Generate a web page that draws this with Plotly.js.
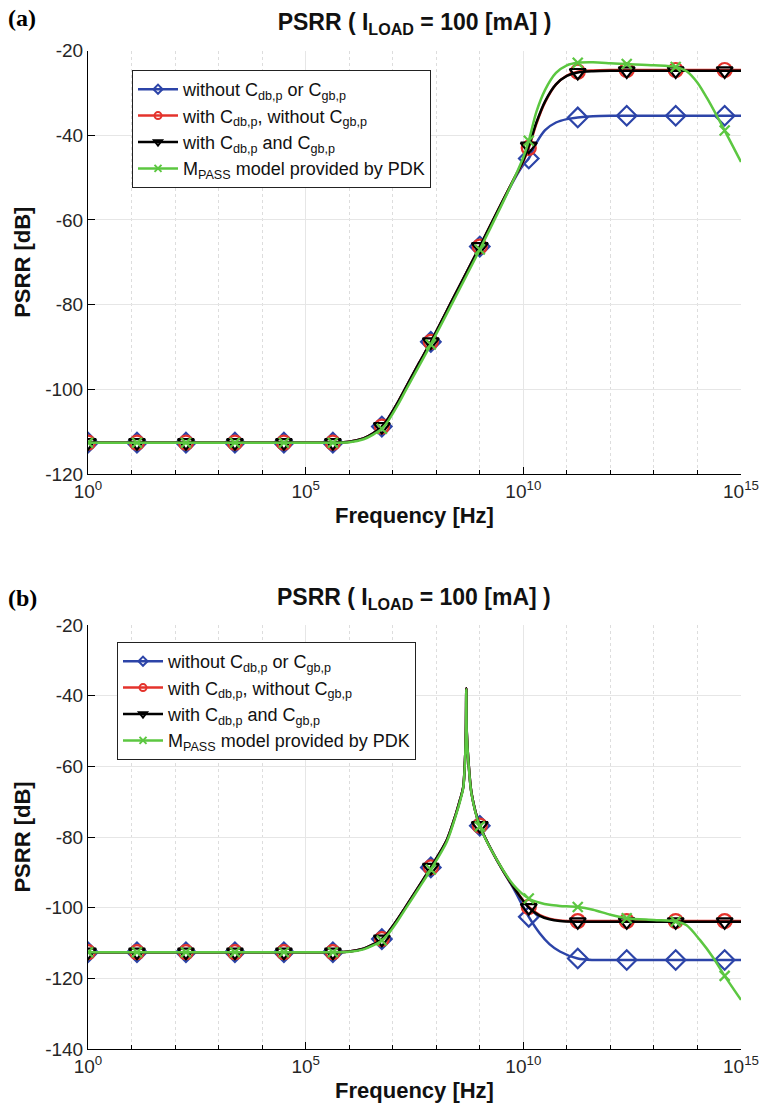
<!DOCTYPE html>
<html><head><meta charset="utf-8">
<script src="https://cdn.plot.ly/plotly-3.0.1.min.js"></script>
<style>html,body{margin:0;padding:0;background:#fff}</style>
</head><body><div id="chart" style="width:764px;height:1120px"></div>
<script>
// ---------- DATA ----------
// log10(frequency / Hz) of the 14 marker positions
const markerLogF = [0, 1.125, 2.25, 3.375, 4.5, 5.625, 6.75, 7.875, 9.0, 10.125, 11.25, 12.375, 13.5, 14.625];

// Panel (a): sample points, log10(f)
const logF_a = [0, 1.125, 2.25, 3.375, 4.5, 5.625, 6.0, 6.33, 6.55, 6.75, 6.9, 7.1, 7.3, 7.6, 7.875, 8.4, 9.0, 9.5, 9.8, 10.0, 10.125, 10.3, 10.5, 10.75, 11.0, 11.25, 11.6, 12.0, 12.375, 13.0, 13.5, 13.75, 14.0, 14.25, 14.625, 15];
const blue_a  = [-112.6, -112.6, -112.6, -112.6, -112.6, -112.6, -112.4, -111.6, -110.4, -108.8, -106.8, -103.4, -99.6, -93.9, -88.8, -78.3, -66.3, -56.2, -50.3, -47.0, -45.5, -41.8, -38.8, -37.0, -36.2, -35.8, -35.5, -35.4, -35.4, -35.4, -35.4, -35.4, -35.4, -35.4, -35.4, -35.4];
const red_a   = [-112.6, -112.6, -112.6, -112.6, -112.6, -112.6, -112.4, -111.6, -110.4, -108.8, -106.8, -103.4, -99.6, -93.9, -88.8, -78.3, -66.3, -56.0, -50.0, -46.2, -43.0, -37.3, -32.2, -28.0, -25.9, -25.0, -24.7, -24.6, -24.6, -24.6, -24.6, -24.6, -24.6, -24.6, -24.6, -24.6];
const black_a = [-112.6, -112.6, -112.6, -112.6, -112.6, -112.6, -112.4, -111.6, -110.4, -108.8, -106.8, -103.4, -99.6, -93.9, -88.8, -78.3, -66.3, -56.0, -50.0, -46.0, -42.6, -37.0, -32.0, -28.0, -26.0, -25.2, -24.9, -24.8, -24.8, -24.8, -24.8, -24.8, -24.8, -24.8, -24.8, -24.8];
const green_a = [-112.6, -112.6, -112.6, -112.6, -112.6, -112.6, -112.5, -111.8, -110.7, -109.3, -107.4, -104.0, -100.2, -94.6, -89.4, -79.0, -67.0, -56.5, -50.0, -45.2, -41.3, -34.5, -29.3, -25.3, -23.5, -22.9, -22.8, -23.0, -23.2, -23.5, -23.9, -24.9, -27.6, -31.8, -38.9, -46.3];

// Panel (b): sample points, log10(f)
const logF_b = [0, 1.125, 2.25, 3.375, 4.5, 5.625, 6.0, 6.33, 6.55, 6.75, 6.9, 7.1, 7.3, 7.6, 7.875, 8.24, 8.45, 8.55, 8.62, 8.66, 8.68, 8.69, 8.70, 8.737, 8.81, 9.0, 9.39, 9.77, 10.125, 10.38, 10.6, 10.84, 11.25, 11.6, 12.0, 12.375, 13.0, 13.5, 13.75, 14.06, 14.37, 14.625, 15];
const blue_b  = [-112.6, -112.6, -112.6, -112.6, -112.6, -112.6, -112.4, -111.6, -110.4, -108.9, -106.9, -103.5, -99.7, -94.0, -88.6, -80.9, -73.5, -69.3, -65.8, -58.2, -50.0, -37.9, -50.0, -58.2, -67.6, -76.8, -86.5, -94.5, -102.6, -107.3, -110.3, -112.4, -114.4, -114.8, -114.8, -114.8, -114.8, -114.8, -114.8, -114.8, -114.8, -114.8, -114.8];
const red_b   = [-112.6, -112.6, -112.6, -112.6, -112.6, -112.6, -112.4, -111.6, -110.4, -108.9, -106.9, -103.5, -99.7, -94.0, -88.6, -80.9, -73.5, -69.3, -65.8, -58.2, -50.0, -37.9, -50.0, -58.2, -67.6, -76.8, -86.5, -94.1, -99.8, -102.1, -103.1, -103.6, -103.8, -103.8, -103.8, -103.8, -103.8, -103.8, -103.8, -103.8, -103.8, -103.8, -103.8];
const black_b = [-112.6, -112.6, -112.6, -112.6, -112.6, -112.6, -112.4, -111.6, -110.4, -108.9, -106.9, -103.5, -99.7, -94.0, -88.6, -80.9, -73.5, -69.3, -65.8, -58.2, -50.0, -37.9, -50.0, -58.2, -67.6, -76.8, -86.5, -94.1, -100.0, -102.3, -103.3, -103.8, -104.0, -104.0, -104.0, -104.0, -104.0, -104.0, -104.0, -104.0, -104.0, -104.0, -104.0];
const green_b = [-112.6, -112.6, -112.6, -112.6, -112.6, -112.6, -112.5, -111.8, -110.7, -109.3, -107.4, -104.0, -100.2, -94.5, -89.2, -81.4, -73.9, -69.7, -66.1, -58.5, -50.3, -38.2, -50.3, -58.5, -67.8, -77.0, -86.4, -93.5, -97.4, -98.6, -99.2, -99.5, -99.8, -100.6, -102.0, -103.0, -103.5, -103.9, -105.0, -109.2, -114.3, -119.3, -126.1];

const seriesNames = [
  'without C<sub>db,p</sub> or C<sub>gb,p</sub>',
  'with C<sub>db,p</sub>, without C<sub>gb,p</sub>',
  'with C<sub>db,p</sub> and C<sub>gb,p</sub>',
  'M<sub>PASS</sub> model provided by PDK'
];
const xTickExp = [0, 5, 10, 15];
const yTicksA = [-120, -100, -80, -60, -40, -20];
const yTicksB = [-140, -120, -100, -80, -60, -40, -20];
const titleText = '<b>PSRR ( I<sub>LOAD</sub> = 100 [mA] )</b>';

// ---------- STYLE ----------
const W = 764, H = 1120;
const FONT = 'Liberation Sans, Arial, Helvetica, sans-serif';
const colors = ['#2c44a8', '#e4332c', '#000000', '#5cc741'];
const symbols = ['diamond-open', 'circle-open', 'triangle-down-open', 'x-thin-open'];
const msizes = [15, 14, 14, 10];
const px2x = p => p / W;
const py2y = p => 1 - p / H;

function buildPanel(logF, seriesList, xa, ya, legendId) {
  const traces = [];
  const f = logF.map(e => Math.pow(10, e));
  seriesList.forEach((ys, i) => {
    traces.push({
      x: f, y: ys, xaxis: xa, yaxis: ya, mode: 'lines', showlegend: false,
      line: {color: colors[i], width: 2.5, shape: 'spline', smoothing: 0.8},
      hoverinfo: 'skip'
    });
    const mx = [], my = [];
    markerLogF.forEach(m => {
      const k = logF.findIndex(v => Math.abs(v - m) < 1e-9);
      if (k >= 0) { mx.push(f[k]); my.push(ys[k]); }
    });
    traces.push({
      x: mx, y: my, xaxis: xa, yaxis: ya, mode: 'markers', showlegend: false,
      marker: {symbol: symbols[i], size: msizes[i], color: colors[i], line: {width: 2.2, color: colors[i]}}
    });
  });
  // legend entries
  seriesList.forEach((ys, i) => {
    traces.push({
      x: [null], y: [null], xaxis: xa, yaxis: ya, mode: 'lines+markers', name: seriesNames[i],
      legend: legendId,
      line: {color: colors[i], width: 2.5},
      marker: {symbol: symbols[i], size: 7, color: colors[i], line: {width: 2, color: colors[i]}}
    });
  });
  return traces;
}

const data = [].concat(
  buildPanel(logF_a, [blue_a, red_a, black_a, green_a], 'x', 'y', 'legend'),
  buildPanel(logF_b, [blue_b, red_b, black_b, green_b], 'x2', 'y2', 'legend2')
);

const decades = [];
for (let d = 1; d < 15; d++) if (d % 5 !== 0) decades.push(Math.pow(10, d));

function xAxis(anchor) {
  return {
    type: 'log', range: [0, 15], anchor: anchor,
    domain: [px2x(88), px2x(741)],
    tickvals: xTickExp.map(e => Math.pow(10, e)),
    ticktext: xTickExp.map(e => '10<sup>' + e + '</sup>'),
    ticks: 'inside', ticklen: 7, tickwidth: 1, tickcolor: '#000',
    showline: true, linecolor: '#000', linewidth: 1, mirror: false,
    showgrid: true, gridcolor: '#e6e6e6', gridwidth: 1,
    zeroline: false,
    tickfont: {family: FONT, size: 19, color: '#262626'},
    minor: {tickvals: decades, ticks: 'inside', ticklen: 4, tickcolor: '#000',
            showgrid: true, gridcolor: '#dddddd', griddash: 'dot', gridwidth: 1},
    title: {text: 'Frequency [Hz]', font: {family: FONT, size: 22, color: '#111', weight: 'bold'}, standoff: 6},
    automargin: false
  };
}
function yAxis(anchor, top, bottom, ticks) {
  return {
    range: [ticks[0], ticks[ticks.length - 1]], anchor: anchor,
    domain: [py2y(bottom), py2y(top)],
    tickvals: ticks, ticktext: ticks.map(String),
    ticks: 'inside', ticklen: 7, tickwidth: 1, tickcolor: '#000',
    showline: true, linecolor: '#000', linewidth: 1, mirror: false,
    showgrid: true, gridcolor: '#e6e6e6', gridwidth: 1, zeroline: false,
    tickfont: {family: FONT, size: 19, color: '#262626'},
    title: {text: 'PSRR [dB]', font: {family: FONT, size: 22, color: '#111', weight: 'bold'}, standoff: 8},
    automargin: false
  };
}

const legendCommon = {
  xanchor: 'left', yanchor: 'top', bgcolor: '#fff', bordercolor: '#222', borderwidth: 1,
  font: {family: FONT, size: 18, color: '#111'}, itemwidth: 40, tracegroupgap: 0,
  itemclick: false, itemdoubleclick: false
};

const layout = {
  width: W, height: H, margin: {l: 0, r: 0, t: 0, b: 0},
  paper_bgcolor: '#fff', plot_bgcolor: '#fff',
  font: {family: FONT},
  title: {text: titleText, x: px2x(414.5), xanchor: 'center', xref: 'paper',
          y: py2y(22), yanchor: 'middle', yref: 'paper',
          font: {family: FONT, size: 23, color: '#111'}},
  xaxis: xAxis('y'),
  yaxis: yAxis('x', 50.5, 474, yTicksA),
  xaxis2: xAxis('y2'),
  yaxis2: yAxis('x2', 625, 1049, yTicksB),
  legend: Object.assign({x: px2x(132), y: py2y(70)}, legendCommon),
  legend2: Object.assign({x: px2x(117), y: py2y(642)}, legendCommon),
  annotations: [
    {text: '<b>(a)</b>', xref: 'paper', yref: 'paper', x: px2x(6), y: py2y(18), xanchor: 'left', yanchor: 'middle',
     showarrow: false, font: {family: 'Liberation Serif, Times New Roman, serif', size: 24, color: '#000'}},
    {text: '<b>(b)</b>', xref: 'paper', yref: 'paper', x: px2x(6), y: py2y(598), xanchor: 'left', yanchor: 'middle',
     showarrow: false, font: {family: 'Liberation Serif, Times New Roman, serif', size: 24, color: '#000'}},
    {text: titleText, xref: 'paper', yref: 'paper', x: px2x(414.5), y: py2y(598), xanchor: 'center', yanchor: 'middle',
     showarrow: false, font: {family: FONT, size: 23, color: '#111'}}
  ]
};

Plotly.newPlot('chart', data, layout, {staticPlot: true, displayModeBar: false});
</script>
</body></html>
